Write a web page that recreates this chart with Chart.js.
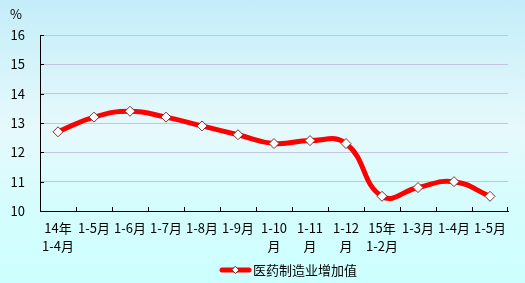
<!DOCTYPE html>
<html lang="zh">
<head>
    <meta charset="UTF-8">
    <title>医药制造业增加值</title>
    <script src="https://cdn.jsdelivr.net/npm/chart.js"></script>
    <style>
        html, body { margin: 0; padding: 0; }
        body { width: 525px; height: 283px; overflow: hidden;
            background: linear-gradient(to bottom, #c4edf9 0%, #e6f9fc 45%, #d4fdfd 75%, #ccffff 100%); }
        canvas { display: block; }
    </style>
</head>
<body>
    <canvas id="chart" width="525" height="283"></canvas>
    <script>
        const labels = [['14年', '1-4月'], '1-5月', '1-6月', '1-7月', '1-8月', '1-9月',
            ['1-10', '月'], ['1-11', '月'], ['1-12', '月'], ['15年', '1-2月'], '1-3月', '1-4月', '1-5月'];
        const values = [12.7, 13.2, 13.4, 13.2, 12.9, 12.6, 12.3, 12.4, 12.3, 10.5, 10.8, 11.0, 10.5];
        const seriesName = '医药制造业增加值';
        const yMin = 10, yMax = 16, yStep = 1;
        const unitLabel = '%';

        const fontFamily = "'Noto Sans CJK SC', 'DejaVu Sans', sans-serif";
        const font = { family: fontFamily, size: 13, lineHeight: 1.4 };

        const decor = {
            id: 'decor',
            afterDraw(chart) {
                const ctx = chart.ctx;
                const x = chart.scales.x, y = chart.scales.y;
                ctx.save();
                ctx.strokeStyle = '#000';
                ctx.lineWidth = 1;
                // inside tick marks on the category axis (between categories and at the right end)
                for (let i = 1; i < labels.length; i++) {
                    const px = Math.round((x.getPixelForValue(i - 1) + x.getPixelForValue(i)) / 2) + 0.5;
                    ctx.beginPath(); ctx.moveTo(px, y.bottom); ctx.lineTo(px, y.bottom - 4); ctx.stroke();
                }
                const lastPx = Math.round(x.right) - 0.5;
                ctx.beginPath(); ctx.moveTo(lastPx, y.bottom); ctx.lineTo(lastPx, y.bottom - 4); ctx.stroke();
                // inside tick marks on the value axis
                for (let v = yMin + yStep; v <= yMax; v += yStep) {
                    const py = Math.round(y.getPixelForValue(v)) + 0.5;
                    ctx.beginPath(); ctx.moveTo(x.left, py); ctx.lineTo(x.left + 4, py); ctx.stroke();
                }
                // unit label
                ctx.fillStyle = '#000';
                ctx.font = '13px ' + fontFamily;
                ctx.textAlign = 'center';
                ctx.textBaseline = 'middle';
                ctx.fillText(unitLabel, 16, 14);

                // legend: thick red line with a diamond, then the series name
                const ly = 270;
                ctx.strokeStyle = '#ff0000';
                ctx.lineWidth = 5;
                ctx.lineCap = 'round';
                ctx.beginPath(); ctx.moveTo(222, ly); ctx.lineTo(249, ly); ctx.stroke();
                ctx.fillStyle = '#ffffff';
                ctx.strokeStyle = '#7a3030';
                ctx.lineWidth = 1;
                ctx.beginPath();
                ctx.moveTo(235.5, ly - 3.5); ctx.lineTo(239, ly); ctx.lineTo(235.5, ly + 3.5); ctx.lineTo(232, ly);
                ctx.closePath(); ctx.fill(); ctx.stroke();
                ctx.fillStyle = '#000';
                ctx.textAlign = 'left';
                ctx.fillText(seriesName, 253, ly);
                ctx.restore();
            }
        };

        new Chart(document.getElementById('chart'), {
            type: 'line',
            data: {
                labels: labels,
                datasets: [{
                    label: seriesName,
                    data: values,
                    borderColor: '#ff0000',
                    borderWidth: 5,
                    tension: 0.45,
                    pointStyle: 'rectRot',
                    pointRadius: 5,
                    pointBackgroundColor: '#ffffff',
                    pointBorderColor: '#7a3030',
                    pointBorderWidth: 1,
                    clip: false
                }]
            },
            options: {
                responsive: false,
                animation: false,
                devicePixelRatio: 1,
                layout: { padding: { top: 35, right: 17, left: 0, bottom: 28 } },
                plugins: {
                    tooltip: { enabled: false },
                    legend: { display: false }
                },
                scales: {
                    x: {
                        offset: true,
                        grid: { display: false, drawTicks: false },
                        border: { color: '#000', width: 1 },
                        ticks: { color: '#000', font: font, maxRotation: 0, autoSkip: false, padding: 8 },
                        afterFit: (scale) => { scale.height = 44; }
                    },
                    y: {
                        min: yMin,
                        max: yMax,
                        grid: { color: '#c4c4dc', drawTicks: false },
                        border: { color: '#000', width: 1 },
                        ticks: { stepSize: yStep, color: '#000', font: font, padding: 15 },
                        afterFit: (scale) => { scale.width = 40; }
                    }
                }
            },
            plugins: [decor]
        });
    </script>
</body>
</html>
